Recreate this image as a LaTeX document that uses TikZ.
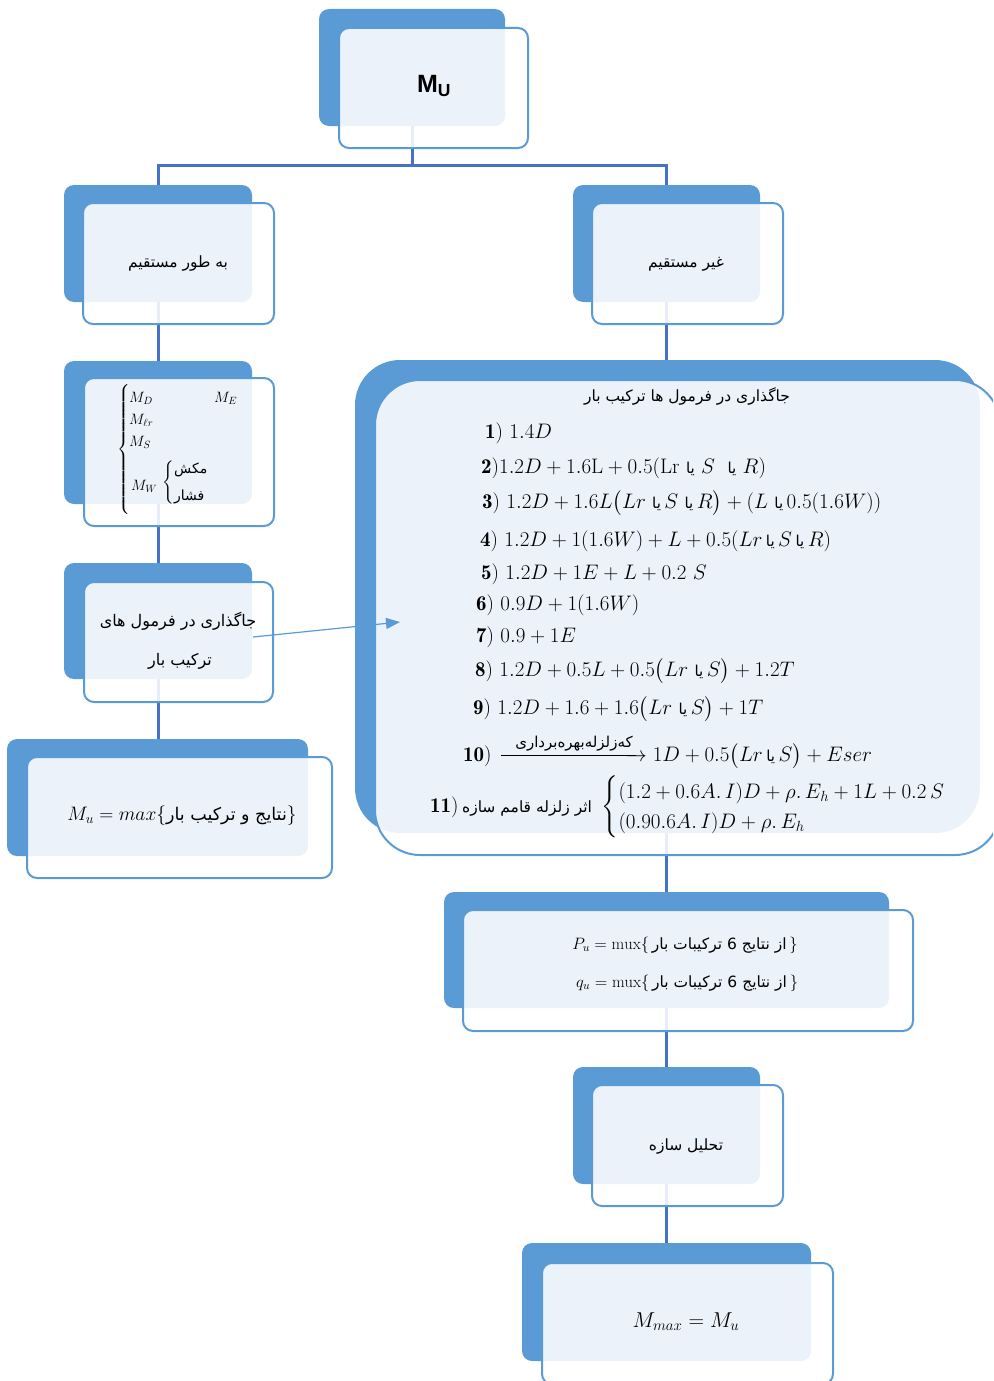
\RequirePackage{fix-cm}
\documentclass[tikz,border=0pt]{standalone}
\usepackage{amsmath}
\usepackage{fontspec}
\TeXXeTstate=1
\newfontfamily\arabicfont[Script=Arabic]{DejaVu Sans}
\newfontfamily\titlefont{Liberation Sans}
\usetikzlibrary{fit,arrows.meta,calc}
\pgfdeclarelayer{bg}
\pgfsetlayers{bg,main}
\definecolor{backblue}{HTML}{5B9BD5}
\definecolor{linkblue}{HTML}{4472C4}
% Persian text set in the Arabic-script font, at a given size inside math
\newcommand\sfa[2]{\text{\fontsize{#1}{#1}\selectfont\arabicfont #2}}
% long arrow with a label set above it (solid shaft)
\newcommand\labarrow[2]{\mathrel{\mathop{\hbox to #1{%
  \leaders\hrule height 5.7pt depth -4.8pt\hfill\kern-10pt$\rightarrow$}}\limits^{#2}}}
\begin{document}
\begin{tikzpicture}[x=1pt,y=-1pt,
  backbox/.style={fill=backblue, rounded corners=10pt, inner sep=0pt, outer sep=0pt},
  frontbox/.style={draw=backblue, line width=2pt, fill=white, fill opacity=0.88,
                   rounded corners=10pt, inner sep=0pt, outer sep=0pt},
  bigback/.style={backbox, rounded corners=45pt},
  bigfront/.style={frontbox, rounded corners=45pt},
  link/.style={draw=linkblue, line width=3pt},
  pointer/.style={draw=backblue, line width=1.2pt, -{Triangle[length=14pt,width=11pt]}},
  label/.style={inner sep=0pt, font=\arabicfont\fontsize{15.5}{19}\selectfont},
  formula/.style={anchor=base west, inner sep=0pt, font=\fontsize{21}{25}\selectfont},
  mtext/.style={inner sep=0pt, font=\fontsize{15}{18}\selectfont}]
\useasboundingbox (0,0) rectangle (993,1381);
\clip (0,0) rectangle (993,1381);

% ---- back panels
\node[backbox, fit={(319,9) (505,126)}]     (topB)   {};
\node[backbox, fit={(64,185) (252,302)}]    (dirB)   {};
\node[backbox, fit={(573,185) (760,302)}]   (indB)   {};
\node[backbox, fit={(64,361) (252,504)}]    (mlistB) {};
\node[backbox, fit={(64,563) (252,679)}]    (subsB)  {};
\node[backbox, fit={(7,739) (308,856)}]     (muB)    {};
\node[bigback, fit={(355,360) (980,833)}]   (bigB)   {};
\node[backbox, fit={(444,892) (889,1008)}]  (pqB)    {};
\node[backbox, fit={(573,1067) (760,1184)}] (anaB)   {};
\node[backbox, fit={(522,1243) (811,1361)}] (mmaxB)  {};

% ---- front panels
\node[frontbox, fit={(339,28) (528,148)}]    (top)   {};
\node[frontbox, fit={(83,203) (274,324)}]    (dir)   {};
\node[frontbox, fit={(592,203) (783,324)}]   (ind)   {};
\node[frontbox, fit={(84,378) (274,526)}]    (mlist) {};
\node[frontbox, fit={(84,582) (273,702)}]    (subs)  {};
\node[frontbox, fit={(27,757) (332,878)}]    (mu)    {};
\node[bigfront, fit={(375,380) (1000,855)}]  (big)   {};
\node[frontbox, fit={(463,910) (913,1031)}]  (pq)    {};
\node[frontbox, fit={(592,1085) (783,1206)}] (ana)   {};
\node[frontbox, fit={(542,1263) (833,1384)}] (mmax)  {};

% ---- connectors behind the panels
\coordinate (bus) at (412,165);
\begin{pgfonlayer}{bg}
  \draw[link] (topB.center) -- (topB.center |- bus);
  \draw[link] (dirB.center) |- (bus) -| (indB.center);
  \draw[link] (dirB.center) -- (dirB.center |- mlistB.center);
  \draw[link] (mlistB.center) -- (mlistB.center |- subsB.center);
  \draw[link] (subsB.center) -- (subsB.center |- muB.center);
  \draw[link] (indB.center) -- (indB.center |- bigB.center);
  \draw[link] (pqB.center) -- (pqB.center |- bigB.center);
  \draw[link] (pqB.center) -- (pqB.center |- anaB.center);
  \draw[link] (anaB.center) -- (anaB.center |- mmaxB.center);
\end{pgfonlayer}

% ---- texts of the small panels
\node[inner sep=0pt, font=\titlefont\bfseries\fontsize{25}{30}\selectfont] (tU) at (434,86) {M\textsubscript{U}};
\node[label] (tdir) at (178,264) {\beginR به طور مستقیم\endR};
\node[label] (tind) at (686,264) {\beginR غیر مستقیم\endR};

% load list
\node[mtext] (lbrace) at (124,450) {$\left\{\vrule height 62pt depth 62pt width 0pt\right.$};
\node[mtext, anchor=west] (mD)  at (129,398) {$M_D$};
\node[mtext, anchor=west] (mE)  at (214,398) {$M_E$};
\node[mtext, anchor=west] (mLr) at (129,420) {$M_{\ell r}$};
\node[mtext, anchor=west] (mS)  at (129,442) {$M_S$};
\node[mtext, anchor=west] (mW)  at (131,486) {$M_W$};
\node[mtext] (sbrace) at (169,484) {$\left\{\vrule height 20pt depth 20pt width 0pt\right.$};
\node[label, font=\arabicfont\fontsize{14}{17}\selectfont, anchor=west] (suc)  at (174,470) {\beginR مکش\endR};
\node[label, font=\arabicfont\fontsize{14}{17}\selectfont, anchor=west] (pres) at (174,497) {\beginR فشار\endR};

\node[label, font=\arabicfont\fontsize{16}{19}\selectfont] (ts1) at (178,621) {\beginR جاگذاری در فرمول های\endR};
\node[label, font=\arabicfont\fontsize{16}{19}\selectfont] (ts2) at (180,661) {\beginR ترکیب بار\endR};

\node[inner sep=0pt, font=\fontsize{19.5}{23}\selectfont] (tmu) at (182,816)
  {$M_u = max\{\sfa{17.5}{\beginR نتایج و ترکیب بار\endR}\}$};

% ---- load combinations
\node[label] (ttitle) at (687,396) {\beginR جاگذاری در فرمول ها ترکیب بار\endR};
\node[formula] (f1) at (485,438) {$\mathbf{1})\ 1.4D$};
\node[formula] (f2) at (481,473) {$\mathbf{2})1.2D+1.6\mathrm{L}+0.5(\mathrm{Lr}\ \sfa{15}{یا}\ S\ \ \sfa{15}{یا}\ R)$};
\node[formula] (f3) at (482,508) {$\mathbf{3})\ 1.2D+1.6L\bigl(Lr\ \sfa{15}{یا}\,S\ \sfa{15}{یا}\,R\bigr)+(L\ \sfa{15}{یا}\,0.5(1.6W))$};
\node[formula] (f4) at (480,546) {$\mathbf{4})\ 1.2D+1(1.6W)+L+0.5(Lr\,\sfa{15}{یا}\,S\,\sfa{15}{یا}\,R)$};
\node[formula] (f5) at (481,579) {$\mathbf{5})\ 1.2D+1E+L+0.2\ S$};
\node[formula] (f6) at (476,610) {$\mathbf{6})\ 0.9D+1(1.6W)$};
\node[formula] (f7) at (476,642) {$\mathbf{7})\ 0.9+1E$};
\node[formula] (f8) at (475,676) {$\mathbf{8})\ 1.2D+0.5L+0.5\bigl(Lr\ \sfa{15}{یا}\,S\bigr)+1.2T$};
\node[formula] (f9) at (473,714) {$\mathbf{9})\ 1.2D+1.6+1.6\bigl(Lr\ \sfa{15}{یا}\,S\bigr)+1T$};
\node[formula] (f10) at (463,761)
  {$\mathbf{10})\,\labarrow{146pt}{\sfa{15}{\beginR کەزلزلەبهرەبرداری\endR}}1D+0.5\bigl(Lr\,\sfa{15}{یا}\,S\bigr)+Eser$};
\node[formula, anchor=west] (f11) at (430,807)
  {$\mathbf{11})\,\sfa{15.5}{\beginR اثر زلزله قامم سازه\endR}\ \begin{cases}
     (1.2+0.6A.\,I)D+\rho.\,E_h+1L+0.2\,S\\
     (0.90.6A.\,I)D+\rho.\,E_h
   \end{cases}$};

% ---- lower column
\node[inner sep=0pt, font=\fontsize{16.5}{20}\selectfont] (tp) at (685,945)
  {$P_u=\mathrm{mux}\{\,\sfa{15.5}{\beginR از نتایج 6 ترکیبات بار\endR}\,\}$};
\node[inner sep=0pt, font=\fontsize{16.5}{20}\selectfont] (tq) at (687,983)
  {$q_u=\mathrm{mux}\{\,\sfa{15.5}{\beginR از نتایج 6 ترکیبات بار\endR}\,\}$};
\node[label] (tana) at (686,1146) {\beginR تحلیل سازه\endR};
\node[inner sep=0pt, font=\fontsize{21.5}{25}\selectfont] (tmax) at (686,1322) {$M_{max}=M_u$};

% ---- pointer from the substitution step to the combinations
\coordinate (arrS) at (253,637);
\coordinate (arrE) at (400,622);
\draw[pointer] (arrS) -- (arrE);
\end{tikzpicture}
\end{document}
